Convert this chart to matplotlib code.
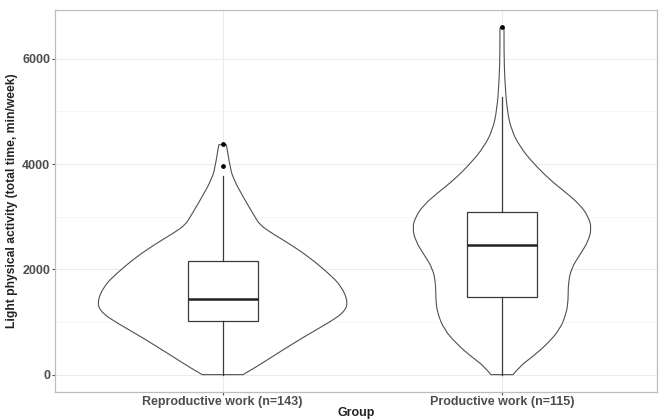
import numpy as np
import matplotlib
matplotlib.use('Agg')
import matplotlib.pyplot as plt
from matplotlib.path import Path
from matplotlib.patches import PathPatch

# Groups (x categories)
GROUPS = ['Reproductive work (n=143)', 'Productive work (n=115)']

# Violin outlines: value (min/week) and relative density
REPRO_Y = [0, 127, 412, 727, 982, 1171, 1361, 1677, 1931, 2246, 2501, 2690,
           2848, 3006, 3323, 3730, 3987, 4367]
REPRO_DENS = [0.162, 0.255, 0.441, 0.654, 0.840, 0.960, 1.0, 0.947, 0.840,
              0.681, 0.521, 0.389, 0.295, 0.255, 0.176, 0.082, 0.056, 0.030]

PROD_Y = [0, 158, 348, 570, 854, 1171, 1424, 1741, 2026, 2278, 2531, 2785,
          3006, 3228, 3450, 3702, 4020, 4335, 4652, 5032, 5601, 6108, 6583]
PROD_DENS = [0.088, 0.141, 0.247, 0.354, 0.460, 0.513, 0.527, 0.527, 0.553,
             0.620, 0.686, 0.713, 0.686, 0.620, 0.513, 0.381, 0.247, 0.141,
             0.074, 0.040, 0.022, 0.016, 0.016]

# Box plot statistics
Q1 = [1025, 1469]
MEDIAN = [1437, 2469]
Q3 = [2152, 3089]
WHISK_LO = [0, 0]
WHISK_HI = [3766, 5266]
OUTLIERS = [[3956, 4386], [6595]]

Y_TICKS = [0, 2000, 4000, 6000]

LINE = '#3a3a3a'
TEXT = '#4d4d4d'
FONT = 'Liberation Sans'


def smooth_side(pts):
    """Quadratic B-spline through midpoints so the outline isn't jagged."""
    verts = [pts[0]]
    codes = [Path.LINETO]
    for k in range(1, len(pts) - 1):
        mid = (pts[k] + pts[k + 1]) / 2 if k < len(pts) - 2 else pts[k + 1]
        verts += [pts[k], mid]
        codes += [Path.CURVE3, Path.CURVE3]
    return verts, codes


def violin_patch(pos, ys, dens):
    ys = np.asarray(ys, dtype=float)
    hw = np.asarray(dens) * 0.45
    left = np.column_stack([pos - hw, ys])
    right = np.column_stack([pos + hw, ys])[::-1]
    lv, lc = smooth_side(left)
    rv, rc = smooth_side(right)
    lc[0] = Path.MOVETO
    verts = lv + rv + [lv[0]]
    codes = lc + rc + [Path.CLOSEPOLY]
    return PathPatch(Path(verts, codes), facecolor='white', edgecolor='#505050',
                     linewidth=0.8, zorder=2)


fig = plt.figure(figsize=(6.6, 4.19), dpi=100)
ax = fig.add_axes([0.0833, 0.0644, 0.9122, 0.9116])

positions = np.arange(1, len(GROUPS) + 1)

ax.add_patch(violin_patch(positions[0], REPRO_Y, REPRO_DENS))
ax.add_patch(violin_patch(positions[1], PROD_Y, PROD_DENS))

# Boxplots
stats = []
for i in range(len(GROUPS)):
    stats.append({'med': MEDIAN[i], 'q1': Q1[i], 'q3': Q3[i],
                  'whislo': WHISK_LO[i], 'whishi': WHISK_HI[i],
                  'fliers': OUTLIERS[i]})
ax.bxp(stats, positions=positions, widths=0.25, showcaps=False,
       patch_artist=True,
       boxprops=dict(facecolor='white', edgecolor=LINE, linewidth=0.9),
       medianprops=dict(color='#222222', linewidth=1.8),
       whiskerprops=dict(color=LINE, linewidth=0.9),
       flierprops=dict(marker='o', markersize=2.4, markerfacecolor='black',
                       markeredgecolor='black'),
       zorder=3)

ax.set_xlim(0.4, 2.555)
ax.set_ylim(-330, 6925)
ax.set_xticks(positions)
ax.set_xticklabels(GROUPS)
ax.set_yticks(Y_TICKS)
ax.set_yticks([1000, 3000, 5000], minor=True)

ax.grid(True, which='major', color='#ebebeb', linewidth=0.8, zorder=0)
ax.grid(True, which='minor', axis='y', color='#f3f3f3', linewidth=0.5, zorder=0)
ax.set_axisbelow(True)

for spine in ax.spines.values():
    spine.set_color('#bdbdbd')
    spine.set_linewidth(0.9)

ax.tick_params(which='major', length=2.5, width=0.8, color='#555555',
               labelcolor=TEXT, pad=1)
ax.tick_params(axis='x', which='major', pad=0.5)
ax.tick_params(which='minor', length=0)
for lab in ax.get_xticklabels() + ax.get_yticklabels():
    lab.set_fontfamily(FONT)
    lab.set_fontweight('bold')
    lab.set_fontsize(9)

ax.set_xlabel('Group', fontfamily=FONT, fontweight='bold',
              fontsize=9, color='#222222', va='center')
ax.xaxis.set_label_coords(0.5, -0.054)
ax.set_ylabel('Light physical activity (total time, min/week)',
              fontfamily=FONT, fontweight='bold', fontsize=8.7,
              color='#222222', labelpad=3)

fig.savefig('out.png', dpi=100, facecolor='white')
